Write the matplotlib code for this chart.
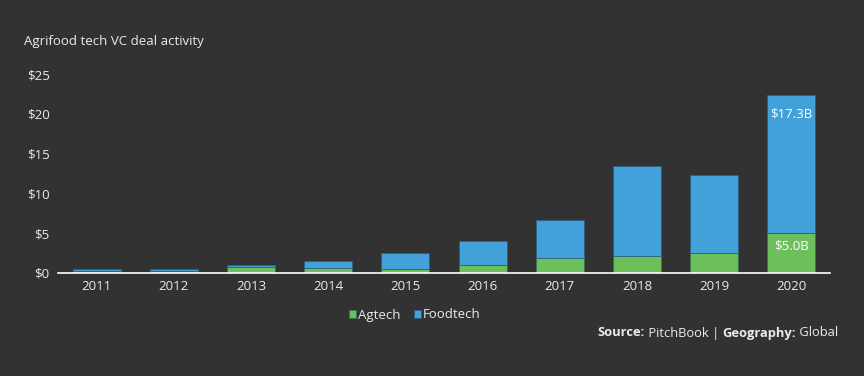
import matplotlib
matplotlib.use("Agg")
import matplotlib.pyplot as plt
import numpy as np

years = ["2011", "2012", "2013", "2014", "2015", "2016", "2017", "2018", "2019", "2020"]
agtech = [0.25, 0.25, 0.75, 0.6, 0.5, 1.0, 1.9, 2.1, 2.5, 5.0]
foodtech = [0.2, 0.2, 0.25, 0.9, 2.0, 3.0, 4.8, 11.3, 9.8, 17.3]
yticks = [0, 5, 10, 15, 20, 25]
ytick_labels = ["$0", "$5", "$10", "$15", "$20", "$25"]

BG = "#323232"
GREEN = "#6cbf5b"
BLUE = "#42a1d9"
TXT = "#ececec"

plt.rcParams['font.family'] = ['Open Sans', 'DejaVu Sans']

fig = plt.figure(figsize=(8.64, 3.76), dpi=100, facecolor=BG)
ax = fig.add_axes([58/864, (376-273)/376, (830-58)/864, (273-74)/376], facecolor=BG)

x = np.arange(len(years))
w = 0.62
ax.bar(x, agtech, width=w, color=GREEN, edgecolor="#3f6f50", linewidth=0.6, label="Agtech", zorder=2)
ax.bar(x, foodtech, width=w, bottom=agtech, color=BLUE, edgecolor="#2f5f80", linewidth=0.6, label="Foodtech", zorder=2)

ax.set_xlim(-0.5, len(years) - 0.5)
ax.set_ylim(0, 25)
ax.set_yticks(yticks)
ax.set_yticklabels(ytick_labels)
ax.set_xticks(x)
ax.set_xticklabels(years)
ax.tick_params(axis='both', length=0, colors=TXT, labelsize=9.5)
ax.tick_params(axis='y', pad=6)
ax.tick_params(axis='x', pad=5)
for s in ["top", "right", "left"]:
    ax.spines[s].set_visible(False)
ax.spines["bottom"].set_color("white")
ax.spines["bottom"].set_linewidth(1.2)
ax.spines["bottom"].set_zorder(3)

# value labels on 2020
i = len(years) - 1
ax.text(x[i], agtech[i] + foodtech[i] - 1.5, f"${foodtech[i]:.1f}B", ha="center", va="top",
        color="white", fontsize=9.5, zorder=4)
ax.text(x[i], agtech[i] - 0.8, f"${agtech[i]:.1f}B", ha="center", va="top",
        color="white", fontsize=9.5, zorder=4)

fig.text(24/864, 1 - 42/376, "Agrifood tech VC deal activity", color=TXT, fontsize=9.5,
         ha="left", va="center")

leg = fig.legend(loc="center", bbox_to_anchor=(415/864, 1 - 315/376), ncol=2, frameon=False,
                 fontsize=9.5, handlelength=0.55, handleheight=0.55, handletextpad=0.15,
                 columnspacing=1.0, labelcolor=TXT)

# source line, built from pieces (right to left)
pieces = [("Source:", "bold"), (" PitchBook | ", "normal"), ("Geography:", "bold"), (" Global", "normal")]
fig.canvas.draw()
renderer = fig.canvas.get_renderer()
xr = 838
yv = 1 - 333/376
for txt, wt in reversed(pieces):
    t = fig.text(xr/864, yv, txt, color=TXT, fontsize=9.3, fontweight=wt, ha="right", va="center")
    bb = t.get_window_extent(renderer=renderer)
    xr = xr - bb.width

fig.savefig("out.png", dpi=100, facecolor=BG)
